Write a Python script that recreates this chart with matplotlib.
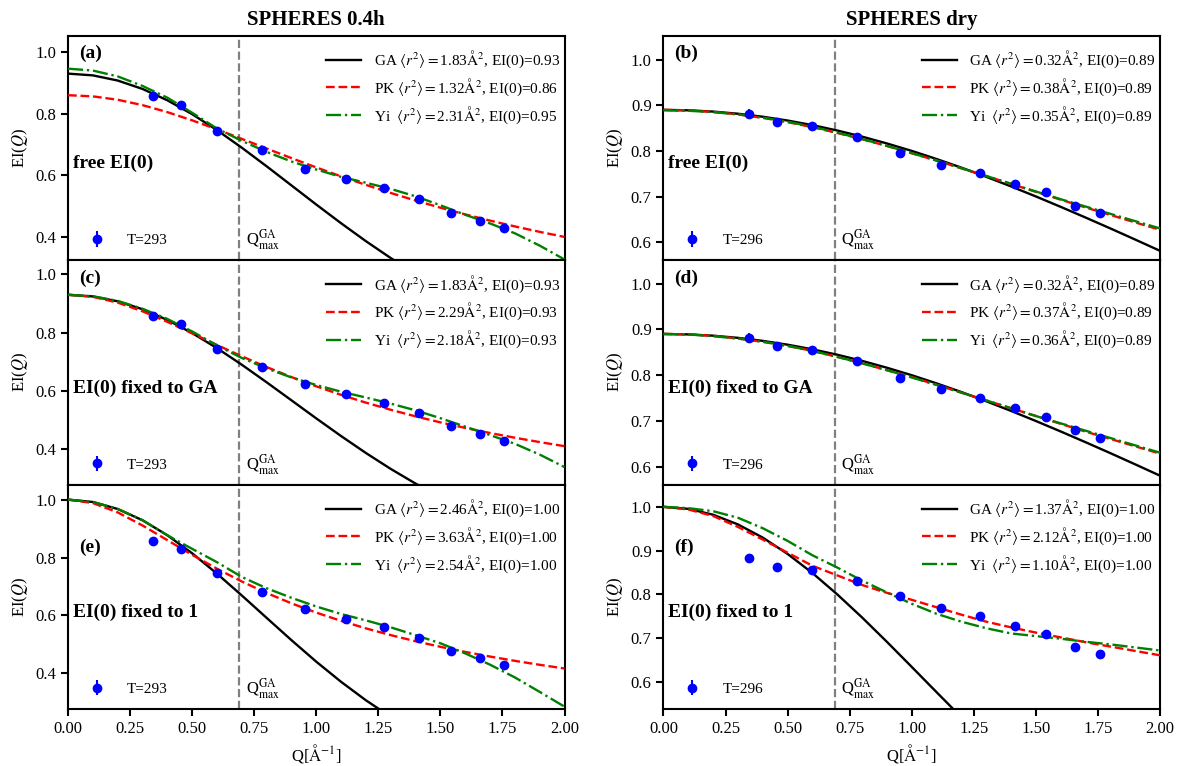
import matplotlib
matplotlib.use("Agg")
import matplotlib.pyplot as plt

plt.rcParams['font.family'] = ['Liberation Serif', 'DejaVu Serif']
plt.rcParams['mathtext.fontset'] = 'stix'

# ---------------- data ----------------
Q_grid = [0.0, 0.1, 0.2, 0.3, 0.4, 0.5, 0.6, 0.7, 0.8, 0.9, 1.0,
          1.1, 1.2, 1.3, 1.4, 1.5, 1.6, 1.7, 1.8, 1.9, 2.0]

Q_data = [0.344, 0.456, 0.599, 0.781, 0.954, 1.119, 1.273, 1.414, 1.542, 1.659, 1.758]
EI_293 = [0.856, 0.829, 0.745, 0.682, 0.622, 0.589, 0.559, 0.523, 0.478, 0.452, 0.429]
err_293 = [0.006, 0.005, 0.005, 0.004, 0.004, 0.004, 0.004, 0.004, 0.004, 0.004, 0.004]
EI_296 = [0.882, 0.863, 0.855, 0.831, 0.795, 0.769, 0.751, 0.728, 0.709, 0.680, 0.664]
err_296 = [0.010, 0.007, 0.005, 0.005, 0.005, 0.005, 0.005, 0.005, 0.005, 0.005, 0.005]

ga_a = [0.930, 0.9243, 0.9076, 0.8803, 0.8435, 0.7985, 0.7467, 0.6897, 0.6294, 0.5674, 0.5053,
        0.4446, 0.3864, 0.3317, 0.2813, 0.2357]
pk_a = [0.8600, 0.8562, 0.8452, 0.8278, 0.8051, 0.7784, 0.7491, 0.7183, 0.6870, 0.6559, 0.6257,
        0.5966, 0.5690, 0.5428, 0.5182, 0.4951, 0.4734, 0.4532, 0.4343, 0.4167, 0.4002]
yi_a = [0.946, 0.940, 0.921, 0.890, 0.852, 0.803, 0.752, 0.712, 0.676, 0.645, 0.619,
        0.595, 0.576, 0.556, 0.532, 0.503, 0.472, 0.444, 0.412, 0.372, 0.327]

ga_c = [0.930, 0.9243, 0.9076, 0.8803, 0.8435, 0.7985, 0.7467, 0.6897, 0.6294, 0.5674, 0.5053,
        0.4446, 0.3864, 0.3317, 0.2813, 0.2357]
pk_c = [0.9300, 0.9230, 0.9031, 0.8732, 0.8370, 0.7975, 0.7576, 0.7186, 0.6817, 0.6473, 0.6155,
        0.5862, 0.5594, 0.5349, 0.5123, 0.4916, 0.4726, 0.4551, 0.4389, 0.4239, 0.4099]
yi_c = [0.930, 0.925, 0.909, 0.882, 0.847, 0.804, 0.756, 0.713, 0.677, 0.646, 0.620,
        0.597, 0.577, 0.556, 0.533, 0.506, 0.477, 0.448, 0.418, 0.381, 0.338]

ga_e = [1.000, 0.9918, 0.9677, 0.9289, 0.8770, 0.8147, 0.7444, 0.6691, 0.5917, 0.5147, 0.4404,
        0.3708, 0.3070, 0.2501]
pk_e = [1.0000, 0.9882, 0.9560, 0.9108, 0.8602, 0.8094, 0.7614, 0.7173, 0.6776, 0.6419, 0.6099,
        0.5813, 0.5554, 0.5321, 0.5110, 0.4918, 0.4742, 0.4581, 0.4433, 0.4296, 0.4170]
yi_e = [1.000, 0.992, 0.968, 0.929, 0.877, 0.830, 0.784, 0.733, 0.694, 0.661, 0.631,
        0.605, 0.583, 0.559, 0.532, 0.504, 0.469, 0.430, 0.386, 0.336, 0.285]

ga_b = [0.890, 0.8890, 0.8862, 0.8815, 0.8749, 0.8666, 0.8565, 0.8447, 0.8313, 0.8163, 0.8000,
        0.7822, 0.7633, 0.7432, 0.7221, 0.7001, 0.6773, 0.6539, 0.6300, 0.6056, 0.5809]
pk_b = [0.8900, 0.8889, 0.8855, 0.8800, 0.8725, 0.8631, 0.8520, 0.8394, 0.8257, 0.8108, 0.7950,
        0.7787, 0.7619, 0.7448, 0.7276, 0.7103, 0.6931, 0.6760, 0.6596, 0.6432, 0.6270]
yi_b = [0.889, 0.888, 0.885, 0.880, 0.873, 0.864, 0.853, 0.840, 0.826, 0.811, 0.795,
        0.779, 0.762, 0.745, 0.728, 0.711, 0.694, 0.678, 0.662, 0.646, 0.630]

ga_d = [0.890, 0.8890, 0.8862, 0.8815, 0.8749, 0.8666, 0.8565, 0.8447, 0.8313, 0.8163, 0.8000,
        0.7822, 0.7633, 0.7432, 0.7221, 0.7001, 0.6773, 0.6539, 0.6300, 0.6056, 0.5809]
pk_d = [0.890, 0.889, 0.886, 0.880, 0.873, 0.864, 0.853, 0.840, 0.826, 0.811, 0.796,
        0.779, 0.762, 0.745, 0.728, 0.711, 0.694, 0.677, 0.661, 0.645, 0.629]
yi_d = [0.890, 0.889, 0.885, 0.880, 0.873, 0.864, 0.853, 0.840, 0.826, 0.811, 0.795,
        0.779, 0.762, 0.745, 0.728, 0.711, 0.695, 0.679, 0.663, 0.647, 0.631]

ga_f = [1.000, 0.9954, 0.9819, 0.9597, 0.9295, 0.8921, 0.8484, 0.7995, 0.7466, 0.6908, 0.6334,
        0.5755, 0.5181]
pk_f = [1.000, 0.994, 0.979, 0.954, 0.925, 0.895, 0.865, 0.843, 0.821, 0.803, 0.787,
        0.770, 0.753, 0.737, 0.724, 0.712, 0.701, 0.690, 0.680, 0.670, 0.660]
yi_f = [1.000, 0.997, 0.990, 0.975, 0.951, 0.922, 0.889, 0.861, 0.831, 0.804, 0.778,
        0.755, 0.737, 0.722, 0.710, 0.704, 0.698, 0.691, 0.685, 0.678, 0.671]

# legend parameters: (<r2>, EI(0)) for GA, PK, Yi
params = {
    'a': [("1.83", "0.93"), ("1.32", "0.86"), ("2.31", "0.95")],
    'b': [("0.32", "0.89"), ("0.38", "0.89"), ("0.35", "0.89")],
    'c': [("1.83", "0.93"), ("2.29", "0.93"), ("2.18", "0.93")],
    'd': [("0.32", "0.89"), ("0.37", "0.89"), ("0.36", "0.89")],
    'e': [("2.46", "1.00"), ("3.63", "1.00"), ("2.54", "1.00")],
    'f': [("1.37", "1.00"), ("2.12", "1.00"), ("1.10", "1.00")],
}
curves = {
    'a': (ga_a, pk_a, yi_a), 'b': (ga_b, pk_b, yi_b),
    'c': (ga_c, pk_c, yi_c), 'd': (ga_d, pk_d, yi_d),
    'e': (ga_e, pk_e, yi_e), 'f': (ga_f, pk_f, yi_f),
}
row_text = ["free EI(0)", "EI(0) fixed to GA", "EI(0) fixed to 1"]
col_titles = ["SPHERES 0.4h", "SPHERES dry"]
temps = ["T=293", "T=296"]
Q_max_GA = 0.69
model_names = ["GA", "PK", "Yi "]

# ---------------- figure ----------------
fig, axes = plt.subplots(3, 2, figsize=(11.91, 7.66), dpi=100, sharex='col')
fig.subplots_adjust(left=0.0571, right=0.974, bottom=0.0744, top=0.9534,
                    hspace=0.0, wspace=0.1992)

ylims = {'a': (0.325, 1.053), 'c': (0.278, 1.049), 'e': (0.277, 1.052),
         'b': (0.5605, 1.0526), 'd': (0.5615, 1.051), 'f': (0.537, 1.051)}
labels_grid = [['a', 'b'], ['c', 'd'], ['e', 'f']]
styles = [dict(color='black', ls='-'), dict(color='red', ls='--'), dict(color='green', ls='-.')]

for r in range(3):
    for c in range(2):
        ax = axes[r, c]
        key = labels_grid[r][c]
        EI = EI_293 if c == 0 else EI_296
        err = err_293 if c == 0 else err_296
        line_handles = []
        for m, (vals, st) in enumerate(zip(curves[key], styles)):
            msd, e0 = params[key][m]
            lab = (model_names[m] + r" $\langle r^2\rangle = $" + msd +
                   r"$\mathrm{\AA}^2$, EI(0)=" + e0)
            h, = ax.plot(Q_grid[:len(vals)], vals, lw=1.7, label=lab, zorder=3, **st)
            line_handles.append(h)
        eb = ax.errorbar(Q_data, EI, yerr=err, fmt='o', color='blue', ms=6,
                         elinewidth=1.5, capsize=0, zorder=4, label=temps[c])
        ax.axvline(Q_max_GA, color='gray', ls='--', lw=1.6, zorder=2)
        ax.text(Q_max_GA + 0.025, 0.09, r"Q$^{\rm GA}_{\rm max}$", fontsize=12,
                transform=ax.get_xaxis_transform(), va='center', ha='left')

        leg1 = ax.legend(handles=line_handles, loc='upper right', frameon=False,
                         fontsize=11, handlelength=2.3, handletextpad=0.8,
                         labelspacing=0.42, borderaxespad=0.0, borderpad=0.3,
                         bbox_to_anchor=(1.0, 0.962))
        ax.add_artist(leg1)
        ax.legend(handles=[eb], loc='lower left', frameon=False, fontsize=11,
                  handlelength=1.0, handletextpad=1.5,
                  bbox_to_anchor=(0.03, 0.03), borderaxespad=0.0)

        lab_y = 0.72 if r == 2 else 0.92
        ax.text(0.022, lab_y, "(" + key + ")", transform=ax.transAxes, fontsize=14,
                fontweight='bold', va='center', ha='left')
        ax.text(0.01, 0.43, row_text[r], transform=ax.transAxes, fontsize=14,
                fontweight='bold', va='center', ha='left')

        ax.set_xlim(0, 2.0)
        ax.set_ylim(*ylims[key])
        ax.set_xticks([0.0, 0.25, 0.5, 0.75, 1.0, 1.25, 1.5, 1.75, 2.0])
        if c == 0:
            ax.set_yticks([0.4, 0.6, 0.8, 1.0])
        else:
            ax.set_yticks([0.6, 0.7, 0.8, 0.9, 1.0])
        ax.set_ylabel(r"EI($Q$)", fontsize=12)
        ax.tick_params(labelsize=12, width=1.5, length=5)
        for s in ax.spines.values():
            s.set_linewidth(1.5)
        if r == 2:
            ax.set_xlabel(r"Q[$\mathrm{\AA}^{-1}$]", fontsize=12)
            ax.set_xticklabels(["0.00", "0.25", "0.50", "0.75", "1.00", "1.25",
                                "1.50", "1.75", "2.00"])
        if r == 0:
            ax.set_title(col_titles[c], fontsize=15, fontweight='bold', pad=8)

for c in range(2):
    fig.align_ylabels(axes[:, c])

fig.savefig("out.png", dpi=100)
